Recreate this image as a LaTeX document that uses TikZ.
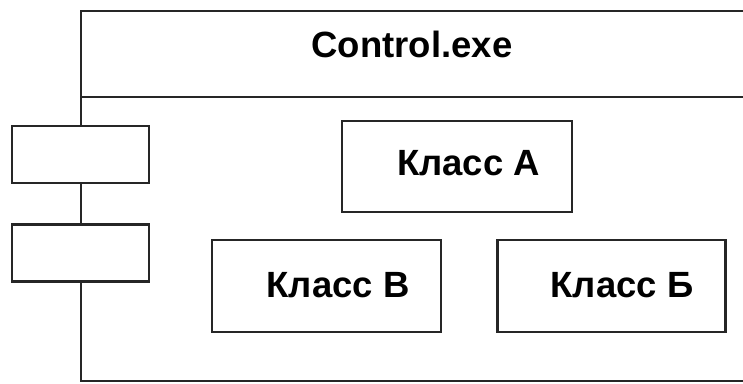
\documentclass[tikz,border=0pt]{standalone}
\usepackage{fontspec}
\setmainfont{Liberation Sans}
\begin{document}
\begin{tikzpicture}[x=1pt,y=-1pt,
  box/.style={draw=black!85,line width=2.4pt,rectangle,inner sep=0pt},
  lbl/.style={font=\fontsize{36.5}{42}\selectfont\bfseries,inner sep=0pt,anchor=base},
  edge/.style={draw=black!85,line width=2.4pt}]
\useasboundingbox (0,0) rectangle (743,383);
% outer component frame (right side off the picture)
\coordinate (tl) at (81,11);
\coordinate (tr) at (760,11);
\coordinate (ml) at (81,97);
\coordinate (mr) at (760,97);
\coordinate (bl) at (81,381);
\coordinate (br) at (760,381);
\draw[edge] (tr) -- (tl) -- (bl) -- (br);
\draw[edge] (ml) -- (mr);
% interface boxes
\node[box,fill=white,minimum width=137pt,minimum height=57pt] (p1) at (80.5,154.5) {};
\node[box,fill=white,minimum width=137pt,minimum height=57pt] (p2) at (80.5,253) {};
% class boxes
\node[box,minimum width=230pt,minimum height=91pt] (A) at (457,166.5) {};
\node[box,minimum width=229pt,minimum height=92pt] (B) at (326.5,286) {};
\node[box,minimum width=228pt,minimum height=92pt] (C) at (611.5,286) {};
% texts
\node[lbl] (t0) at (412,57) {Control.exe};
\node[lbl] (tA) at (468.5,175) {Класс А};
\node[lbl] (tB) at (338,297) {Класс В};
\node[lbl] (tC) at (622,297) {Класс Б};
\end{tikzpicture}
\end{document}
